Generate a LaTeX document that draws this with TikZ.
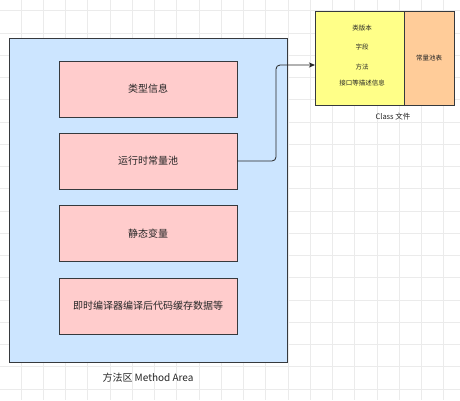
\documentclass[tikz,border=0pt]{standalone}
\usepackage{fontspec}
\setmainfont{Noto Sans CJK SC}
\usetikzlibrary{arrows.meta}
\definecolor{strk}{HTML}{36393D}
\definecolor{bluef}{HTML}{CCE5FF}
\definecolor{pinkf}{HTML}{FFCCCC}
\definecolor{yellf}{HTML}{FFFF88}
\definecolor{orangef}{HTML}{FFCC99}
\definecolor{gridc}{HTML}{EBEBEB}
\tikzset{
  box/.style={draw=strk, line width=0.8pt, inner sep=0pt, outer sep=0pt},
  pinkbox/.style={box, fill=pinkf, minimum width=178pt, minimum height=56pt, font=\fontsize{10}{12}\selectfont, text=black!85},
  small/.style={font=\fontsize{6.5}{8}\selectfont, text=black!85, inner sep=0pt},
  lbl/.style={inner sep=0pt, text=black!85},
  conn/.style={draw=black!85, line width=0.8pt, rounded corners=4pt, -{Stealth[length=6pt,width=5pt,inset=1.5pt]}}
}
\begin{document}
\begin{tikzpicture}[x=1pt,y=-1pt]
\useasboundingbox (0,0) rectangle (460,400);
\fill[white] (0,0) rectangle (460,400);
% grid
\foreach \i in {0,...,21} {
  \draw[gridc, line width=0.5pt] ({-1.5+22.25*\i},0) -- ({-1.5+22.25*\i},400);
}
\foreach \j in {0,...,17} {
  \draw[gridc, line width=0.5pt] (0,{10.5+22.25*\j}) -- (460,{10.5+22.25*\j});
}
% method area
\node[box, fill=bluef, minimum width=278pt, minimum height=324pt] (ma) at (148,200) {};
\node[lbl, font=\fontsize{10}{12}\selectfont] (malbl) at (148,378) {方法区 Method Area};
\node[pinkbox] (b1) at (148,89) {类型信息};
\node[pinkbox] (b2) at (148,161) {运行时常量池};
\node[pinkbox] (b3) at (148,233.5) {静态变量};
\node[pinkbox] (b4) at (148,306) {即时编译器编译后代码缓存数据等};
% class file
\node[box, fill=yellf, minimum width=89pt, minimum height=94pt] (cf) at (359.5,58) {};
\node[box, fill=orangef, minimum width=50pt, minimum height=94pt] (cp) at (429,58) {};
\node[small] (t1) at (362,28) {类版本};
\node[small] (t2) at (362,47.5) {字段};
\node[small] (t3) at (362,67) {方法};
\node[small] (t4) at (362,83) {接口等描述信息};
\node[small] (t5) at (429,58) {常量池表};
\node[lbl, font=\fontsize{7.5}{9}\selectfont] (cflbl) at (393,117) {Class 文件};
% connector
\coordinate (tgt) at (cf.west |- 0,65);
\draw[conn] (b2.east) -- (276,161) -- (276,65) -- (tgt);
\end{tikzpicture}
\end{document}
